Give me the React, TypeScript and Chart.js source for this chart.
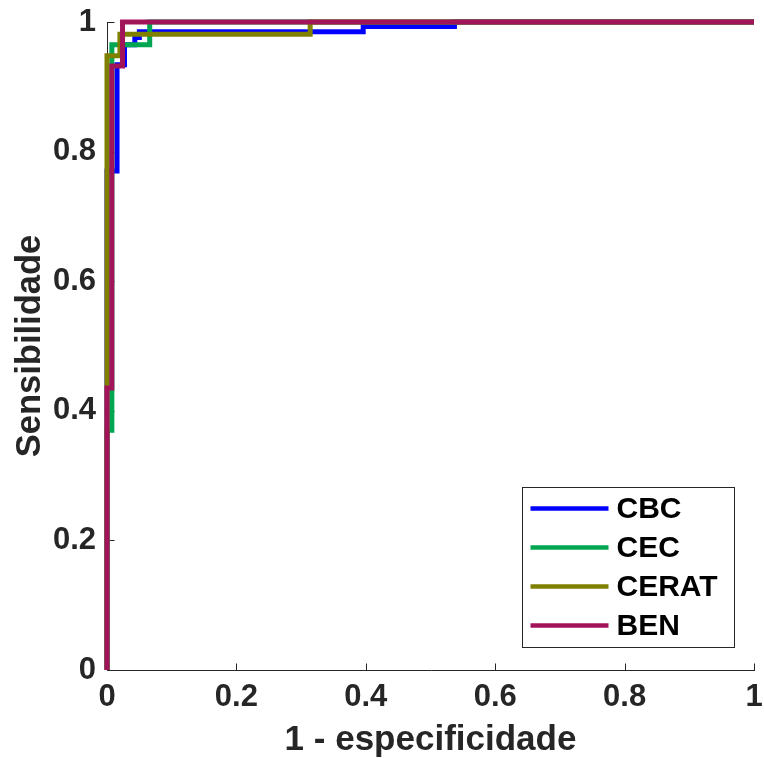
import React, { useEffect, useRef } from 'react';
import { Chart, registerables } from 'chart.js';

Chart.register(...registerables);

// ---- Data (ROC curve vertices: 1 - especificidade, sensibilidade) ----
const SERIES_NAMES = ['CBC', 'CEC', 'CERAT', 'BEN'];

const CBC_FPR = [0, 0, 0.0155, 0.0155, 0.027, 0.027, 0.043, 0.043, 0.05, 0.05, 0.396, 0.396, 0.537, 0.537, 1];
const CBC_TPR = [0, 0.77, 0.77, 0.934, 0.934, 0.965, 0.965, 0.976, 0.976, 0.985, 0.985, 0.993, 0.993, 1, 1];

const CEC_FPR = [0, 0, 0.0075, 0.0075, 0.066, 0.066, 1];
const CEC_TPR = [0, 0.37, 0.37, 0.965, 0.965, 1, 1];

const CERAT_FPR = [0, 0, 0.02, 0.02, 0.314, 0.314, 1];
const CERAT_TPR = [0, 0.948, 0.948, 0.981, 0.981, 1, 1];

const BEN_FPR = [0, 0, 0.0075, 0.0075, 0.024, 0.024, 1];
const BEN_TPR = [0, 0.435, 0.435, 0.932, 0.932, 1, 1];

const X_TICKS = [0, 0.2, 0.4, 0.6, 0.8, 1];
const Y_TICKS = [0, 0.2, 0.4, 0.6, 0.8, 1];

const X_TITLE = '1 - especificidade';
const Y_TITLE = 'Sensibilidade';

const COLORS = ['#0000FF', '#00A651', '#808000', '#A2145A'];

const FONT_FAMILY = "'Liberation Sans', Arial, Helvetica, sans-serif";
const AXIS_COLOR = '#262626';

const toPoints = (xs: number[], ys: number[]) => xs.map((x, i) => ({ x, y: ys[i] }));

const SERIES = [
  toPoints(CBC_FPR, CBC_TPR),
  toPoints(CEC_FPR, CEC_TPR),
  toPoints(CERAT_FPR, CERAT_TPR),
  toPoints(BEN_FPR, BEN_TPR),
];

// Axis lines with inward ticks (drawn below the data, like MATLAB)
const axesPlugin = {
  id: 'matlabAxes',
  beforeDatasetsDraw(chart: any) {
    const { ctx, chartArea } = chart;
    const xs = chart.scales.x;
    const ys = chart.scales.y;
    const left = Math.round(chartArea.left) + 0.5;
    const bottom = Math.round(chartArea.bottom) + 0.5;
    const tick = 7;
    ctx.save();
    ctx.strokeStyle = AXIS_COLOR;
    ctx.lineWidth = 1;
    ctx.beginPath();
    ctx.moveTo(left, Math.round(chartArea.top));
    ctx.lineTo(left, bottom);
    ctx.lineTo(Math.round(chartArea.right) + 1, bottom);
    X_TICKS.forEach((v) => {
      const px = Math.round(xs.getPixelForValue(v)) + 0.5;
      ctx.moveTo(px, bottom);
      ctx.lineTo(px, bottom - tick);
    });
    Y_TICKS.forEach((v) => {
      const py = Math.round(ys.getPixelForValue(v)) + 0.5;
      ctx.moveTo(left, py);
      ctx.lineTo(left + tick, py);
    });
    ctx.stroke();
    ctx.restore();
  },
};

// Legend box inside the plot area (lower right)
const legendPlugin = {
  id: 'insideLegend',
  afterDraw(chart: any) {
    const { ctx, chartArea } = chart;
    const boxW = 212;
    const boxH = 160;
    const boxRight = chartArea.right - 20;
    const boxBottom = chartArea.bottom - 23;
    const bx = Math.round(boxRight - boxW) + 0.5;
    const by = Math.round(boxBottom - boxH) + 0.5;
    ctx.save();
    ctx.fillStyle = '#FFFFFF';
    ctx.fillRect(bx, by, boxW, boxH);
    ctx.strokeStyle = AXIS_COLOR;
    ctx.lineWidth = 1;
    ctx.strokeRect(bx, by, boxW, boxH);
    ctx.font = `bold 30px ${FONT_FAMILY}`;
    ctx.textAlign = 'left';
    ctx.textBaseline = 'middle';
    chart.data.datasets.forEach((ds: any, i: number) => {
      const cy = by + 21 + i * 39;
      ctx.strokeStyle = ds.borderColor;
      ctx.lineWidth = 4.5;
      ctx.beginPath();
      ctx.moveTo(bx + 8, cy);
      ctx.lineTo(bx + 86, cy);
      ctx.stroke();
      ctx.fillStyle = '#000000';
      ctx.fillText(ds.label, bx + 94, cy + 1);
    });
    ctx.restore();
  },
};

const fmt = (v: any) => `${Number(v)}`;

export default function App() {
  const canvasRef = useRef<HTMLCanvasElement | null>(null);

  useEffect(() => {
    const canvas = canvasRef.current;
    if (!canvas) return;
    const chart = new Chart(canvas, {
      type: 'line',
      data: {
        datasets: SERIES_NAMES.map((name, i) => ({
          label: name,
          data: SERIES[i],
          borderColor: COLORS[i],
          backgroundColor: COLORS[i],
          borderWidth: 5,
          pointRadius: 0,
          pointHoverRadius: 0,
          fill: false,
          tension: 0,
          clip: false as any,
          borderJoinStyle: 'miter' as const,
          borderCapStyle: 'butt' as const,
          order: SERIES_NAMES.length - i,
        })),
      },
      options: {
        responsive: false,
        animation: false,
        devicePixelRatio: 1,
        parsing: false as any,
        layout: { padding: { top: 22, right: 10, left: 0, bottom: 0 } },
        plugins: {
          legend: { display: false },
          tooltip: { enabled: false },
        },
        scales: {
          x: {
            type: 'linear',
            min: 0,
            max: 1,
            afterBuildTicks: (scale: any) => {
              scale.ticks = X_TICKS.map((v) => ({ value: v }));
            },
            afterFit: (scale: any) => {
              scale.height = 88;
              scale.paddingLeft = 0;
              scale.paddingRight = 0;
            },
            ticks: {
              autoSkip: false,
              maxRotation: 0,
              padding: 9,
              color: AXIS_COLOR,
              callback: fmt,
              font: { family: FONT_FAMILY, size: 31, weight: 'bold' },
            },
            grid: { display: false, drawTicks: false },
            border: { display: false },
            title: {
              display: true,
              text: X_TITLE,
              color: AXIS_COLOR,
              font: { family: FONT_FAMILY, size: 35, weight: 'bold', lineHeight: 1 },
              padding: { top: 0, bottom: 0 },
            },
          },
          y: {
            type: 'linear',
            min: 0,
            max: 1,
            afterBuildTicks: (scale: any) => {
              scale.ticks = Y_TICKS.map((v) => ({ value: v }));
            },
            afterFit: (scale: any) => {
              scale.width = 107;
              scale.paddingTop = 0;
              scale.paddingBottom = 0;
            },
            ticks: {
              autoSkip: false,
              padding: 11,
              color: AXIS_COLOR,
              callback: fmt,
              font: { family: FONT_FAMILY, size: 31, weight: 'bold' },
            },
            grid: { display: false, drawTicks: false },
            border: { display: false },
            title: {
              display: true,
              text: Y_TITLE,
              color: AXIS_COLOR,
              font: { family: FONT_FAMILY, size: 34.5, weight: 'bold', lineHeight: 1 },
              padding: { top: 13, bottom: 0 },
            },
          },
        },
      },
      plugins: [axesPlugin, legendPlugin],
    });
    return () => chart.destroy();
  }, []);

  return (
    <div style={{ position: 'fixed', left: 0, top: 0, width: 764, height: 758, background: '#FFFFFF' }}>
      <canvas ref={canvasRef} width={764} height={758} style={{ display: 'block' }} />
    </div>
  );
}
